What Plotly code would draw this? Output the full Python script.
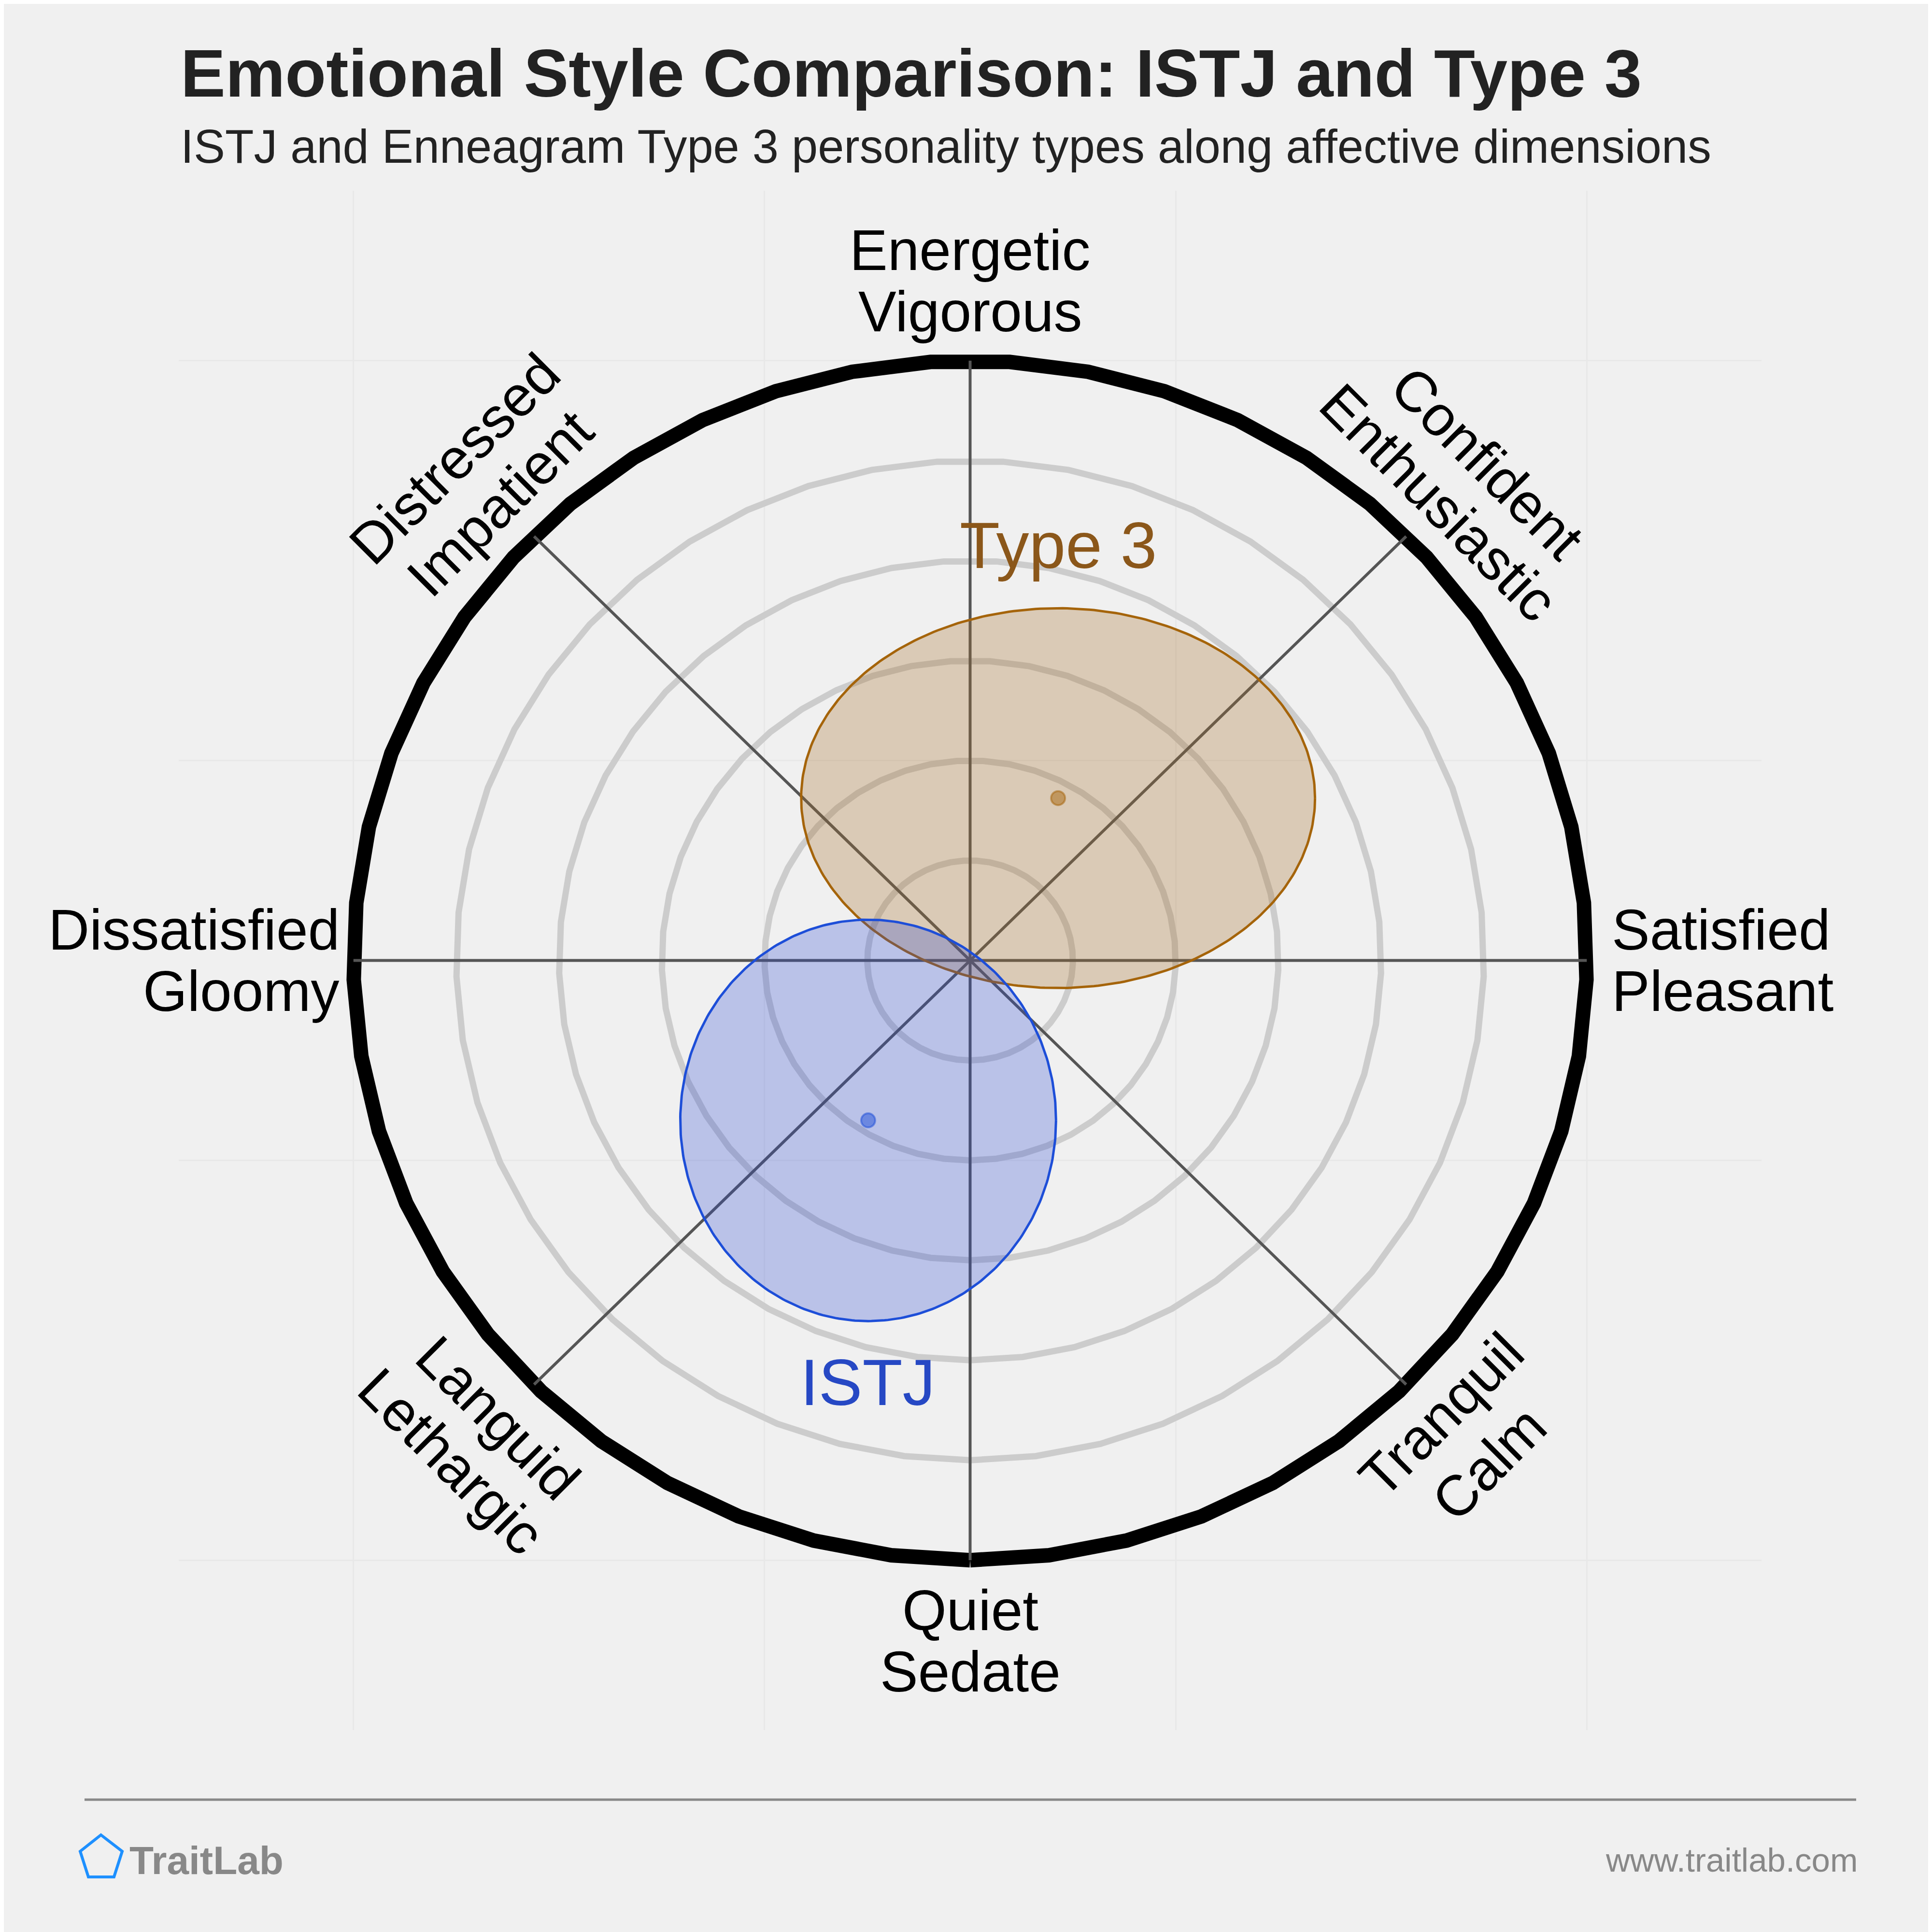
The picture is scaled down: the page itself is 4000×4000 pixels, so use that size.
import numpy as np
import plotly.graph_objects as go

# ---------------- data ----------------
type_names = ["Type 3", "ISTJ"]
center_x = [0.214, -0.248]
center_y = [0.406, -0.400]
spread_x = [0.625, 0.457]
spread_y = [0.475, 0.502]

ring_levels = [0.25, 0.5, 0.75, 1.0, 1.25]
outer_level = 1.5
axis_angles_deg = [0, 45, 90, 135]

label_top = ["Energetic", "Vigorous"]
label_bottom = ["Quiet", "Sedate"]
label_right = ["Satisfied", "Pleasant"]
label_left = ["Dissatisfied", "Gloomy"]
label_top_right = ["Confident", "Enthusiastic"]
label_top_left = ["Distressed", "Impatient"]
label_bottom_left = ["Lethargic", "Languid"]
label_bottom_right = ["Calm", "Tranquil"]

title_text = "Emotional Style Comparison: ISTJ and Type 3"
subtitle_text = "ISTJ and Enneagram Type 3 personality types along affective dimensions"
brand_text = "TraitLab"
url_text = "www.traitlab.com"

# ---------------- styles ----------------
W = H = 4000
SH = 8  # page offset of the figure inside the browser page
ML, MR, MT, MB = 370 - SH, 353 + SH, 395 - SH, 418 + SH
RANGE = 1.925
BG = "#f0f0f0"
FONT = "Liberation Sans, Arial, sans-serif"
line_cols = ["#a5640a", "#1d4ed8"]
fill_cols = ["rgba(166,110,40,0.29)", "rgba(40,70,210,0.27)"]
dot_cols = ["rgba(166,100,10,0.50)", "rgba(29,78,216,0.50)"]
text_cols = ["#8b571a", "#2648c4"]
type_label_offset = [(0.0, 0.632), (0.0, -0.655)]


def px_x(X):
    return (X - SH - ML) / (W - ML - MR)


def px_y(Y):
    return (H - MB - (Y - SH)) / (H - MT - MB)


fig = go.Figure()

# polygonal rings (49 segments, vertex at the bottom)
ang = np.deg2rad(270 + np.arange(50) * 360.0 / 49)
for r in ring_levels:
    fig.add_trace(go.Scatter(x=r * np.cos(ang), y=r * np.sin(ang), mode="lines",
                             line=dict(color="#cccccc", width=13), hoverinfo="skip"))
fig.add_trace(go.Scatter(x=outer_level * np.cos(ang), y=outer_level * np.sin(ang), mode="lines",
                         line=dict(color="#000000", width=30), hoverinfo="skip"))

# radial axes
for a in axis_angles_deg:
    t = np.deg2rad(a)
    fig.add_trace(go.Scatter(x=[-outer_level * np.cos(t), outer_level * np.cos(t)],
                             y=[-outer_level * np.sin(t), outer_level * np.sin(t)],
                             mode="lines", line=dict(color="#555555", width=6), hoverinfo="skip"))

# ellipses
tt = np.linspace(0, 2 * np.pi, 361)
for i, name in enumerate(type_names):
    fig.add_trace(go.Scatter(x=center_x[i] + spread_x[i] * np.cos(tt),
                             y=center_y[i] + spread_y[i] * np.sin(tt),
                             mode="lines", fill="toself", fillcolor=fill_cols[i],
                             line=dict(color=line_cols[i], width=5), name=name, hoverinfo="skip"))
for i, name in enumerate(type_names):
    fig.add_trace(go.Scatter(x=[center_x[i]], y=[center_y[i]], mode="markers",
                             marker=dict(size=29, color=dot_cols[i],
                                         line=dict(color=dot_cols[i], width=4)),
                             name=name, hoverinfo="skip"))

ann = []


def data_label(text, x, y, xanchor="center", angle=0, size=118, color="#000000"):
    ann.append(dict(text=text, x=x, y=y, xref="x", yref="y", showarrow=False,
                    xanchor=xanchor, yanchor="middle", textangle=angle,
                    font=dict(family=FONT, size=size, color=color)))


# type labels
for i, name in enumerate(type_names):
    data_label(name, center_x[i] + type_label_offset[i][0], center_y[i] + type_label_offset[i][1],
               size=136, color=text_cols[i])

# dimension labels
data_label(label_top[0], 0, 1.777)
data_label(label_top[1], 0, 1.623)
data_label(label_bottom[0], 0, -1.625)
data_label(label_bottom[1], 0, -1.779)
data_label(label_right[0], 1.558, 0.077, xanchor="left")
data_label(label_right[1], 1.558, -0.077, xanchor="left")
data_label(label_left[0], -1.532, 0.077, xanchor="right")
data_label(label_left[1], -1.532, -0.077, xanchor="right")
data_label(label_top_right[0], 1.258, 1.245, angle=45)
data_label(label_top_right[1], 1.140, 1.146, angle=45)
data_label(label_top_left[0], -1.254, 1.254, angle=-45)
data_label(label_top_left[1], -1.144, 1.144, angle=-45)
data_label(label_bottom_left[0], -1.262, -1.252, angle=45)
data_label(label_bottom_left[1], -1.149, -1.144, angle=45)
data_label(label_bottom_right[0], 1.262, -1.258, angle=-45)
data_label(label_bottom_right[1], 1.146, -1.136, angle=-45)


def page_label(text, X, Y, size, color, bold=False, xanchor="left"):
    ann.append(dict(text=f"<b>{text}</b>" if bold else text, x=px_x(X), y=px_y(Y),
                    xref="paper", yref="paper", showarrow=False, xanchor=xanchor,
                    yanchor="middle", font=dict(family=FONT, size=size, color=color)))


page_label(title_text, 372, 151, 139, "#222222", bold=True)
page_label(subtitle_text, 372, 303, 97.4, "#222222")
page_label(brand_text, 266, 3852, 82, "#888888", bold=True)
page_label(url_text, 3848, 3851, 69, "#888888", xanchor="right")

shapes = [
    dict(type="line", xref="paper", yref="paper", x0=px_x(175), x1=px_x(3843),
         y0=px_y(3726), y1=px_y(3726), line=dict(color="#888888", width=5)),
    dict(type="path", xref="paper", yref="paper",
         path="M {},{} L {},{} L {},{} L {},{} L {},{} Z".format(
             px_x(209), px_y(3799), px_x(253), px_y(3833), px_x(236), px_y(3886),
             px_x(183), px_y(3886), px_x(166), px_y(3833)),
         line=dict(color="#1e90ff", width=6)),
]

axis_common = dict(range=[-RANGE, RANGE], tickvals=[-1.5, -0.5, 0.5, 1.5], showticklabels=False,
                   ticks="", showgrid=True, gridcolor="#e8e8e8", gridwidth=3, zeroline=False,
                   showline=False, fixedrange=True)

fig.update_layout(
    width=W, height=H, showlegend=False,
    paper_bgcolor=BG, plot_bgcolor=BG,
    margin=dict(l=ML, r=MR, t=MT, b=MB, pad=0, autoexpand=False),
    xaxis=axis_common, yaxis=axis_common,
    annotations=ann, shapes=shapes,
)

fig.write_html("out.html")
